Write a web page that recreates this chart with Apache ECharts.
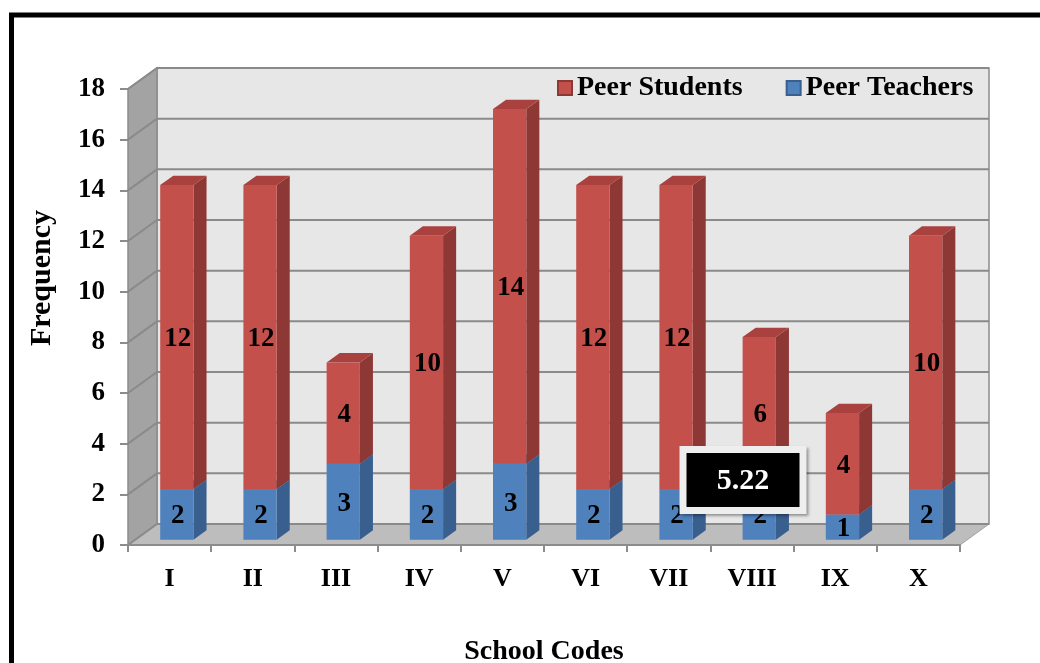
<!DOCTYPE html>
<html>
<head>
<meta charset="utf-8">
<script src="https://cdn.jsdelivr.net/npm/echarts@6/dist/echarts.min.js"></script>
<style>
  html, body { margin: 0; padding: 0; background: #ffffff; }
  #chart { width: 1040px; height: 663px; }
</style>
</head>
<body>
<div id="chart"></div>
<script>
// School codes and the two stacked groups per school
const schoolCodes = ['I', 'II', 'III', 'IV', 'V', 'VI', 'VII', 'VIII', 'IX', 'X'];
const peerTeachers = [2, 2, 3, 2, 3, 2, 2, 2, 1, 2];
const peerStudents = [12, 12, 4, 10, 14, 12, 12, 6, 4, 10];
const yTicks = [0, 2, 4, 6, 8, 10, 12, 14, 16, 18];
const calloutText = '5.22';

const FONT = '"Liberation Serif", "Times New Roman", serif';

// Pseudo-3D geometry (pixels): depth of the box and where the bars sit inside it
const DEPTH_X = 29, DEPTH_Y = -21;
const BAR_FRONT = 0.25, BAR_BACK = 0.7;
const BAR_WIDTH_RATIO = 0.4;

const palette = {
  students: { front: '#c4504c', side: '#8d3835', top: '#a9423f' },
  teachers: { front: '#4f81bd', side: '#395f8e', top: '#416da3' }
};

// [category index, stack base, stack top, segment value]
const teacherData = schoolCodes.map((c, i) => [i, 0, peerTeachers[i], peerTeachers[i]]);
const studentData = schoolCodes.map((c, i) => [i, peerTeachers[i], peerTeachers[i] + peerStudents[i], peerStudents[i]]);

function barRenderer(colors) {
  return function (params, api) {
    const i = api.value(0), lo = api.value(1), hi = api.value(2), v = api.value(3);
    const band = api.size([1, 0])[0];
    const w = band * BAR_WIDTH_RATIO;
    const pLo = api.coord([i, lo]);
    const pHi = api.coord([i, hi]);
    const fx = BAR_FRONT * DEPTH_X, fy = BAR_FRONT * DEPTH_Y;
    const dx = (BAR_BACK - BAR_FRONT) * DEPTH_X, dy = (BAR_BACK - BAR_FRONT) * DEPTH_Y;
    const x0 = pLo[0] - w / 2 + fx, x1 = x0 + w;
    const yb = pLo[1] + fy, yt = pHi[1] + fy;
    return {
      type: 'group',
      children: [
        { type: 'polygon', shape: { points: [[x1, yb], [x1 + dx, yb + dy], [x1 + dx, yt + dy], [x1, yt]] },
          style: { fill: colors.side } },
        { type: 'polygon', shape: { points: [[x0, yt], [x1, yt], [x1 + dx, yt + dy], [x0 + dx, yt + dy]] },
          style: { fill: colors.top } },
        { type: 'rect', shape: { x: x0, y: yt, width: w, height: yb - yt },
          style: { fill: colors.front } },
        { type: 'text', x: (x0 + x1) / 2 + 1, y: (yb + yt) / 2 + 2,
          style: { text: String(v), fill: '#000', font: 'bold 27px ' + FONT, align: 'center', verticalAlign: 'middle' } }
      ]
    };
  };
}

// Back wall, side wall and floor of the plot box
function wallRenderer(params, api) {
  const cs = params.coordSys;
  const L = cs.x, R = cs.x + cs.width, T = cs.y, B = cs.y + cs.height;
  const edge = { stroke: '#8c8c8c', lineWidth: 1.5 };
  return {
    type: 'group',
    children: [
      { type: 'rect', shape: { x: L + DEPTH_X, y: T + DEPTH_Y, width: R - L, height: B - T },
        style: Object.assign({ fill: '#e7e7e7' }, edge) },
      { type: 'polygon', shape: { points: [[L, B], [L, T], [L + DEPTH_X, T + DEPTH_Y], [L + DEPTH_X, B + DEPTH_Y]] },
        style: Object.assign({ fill: '#a3a3a3' }, edge) },
      { type: 'polygon', shape: { points: [[L, B], [R, B], [R + DEPTH_X, B + DEPTH_Y], [L + DEPTH_X, B + DEPTH_Y]] },
        style: { fill: '#bdbdbd', stroke: '#a0a0a0', lineWidth: 1 } }
    ]
  };
}

// Gridlines running along the side wall and across the back wall
function gridRenderer(params, api) {
  const cs = params.coordSys;
  const L = cs.x, R = cs.x + cs.width;
  const y = api.coord([0, api.value(1)])[1];
  return {
    type: 'polyline',
    shape: { points: [[L, y], [L + DEPTH_X, y + DEPTH_Y], [R + DEPTH_X, y + DEPTH_Y]] },
    style: { stroke: '#8a8a8a', lineWidth: 2, fill: null }
  };
}

const chart = echarts.init(document.getElementById('chart'), null, { renderer: 'canvas' });

chart.setOption({
  animation: false,
  backgroundColor: '#ffffff',
  grid: { left: 128, right: 80, top: 89, bottom: 118, containLabel: false, outerBoundsMode: 'none' },
  legend: {
    data: ['Peer Students', 'Peer Teachers'],
    left: 557, top: 74, padding: 0,
    itemWidth: 14, itemHeight: 14, itemGap: 43,
    icon: 'rect',
    textStyle: { fontFamily: FONT, fontWeight: 'bold', fontSize: 28, color: '#000' }
  },
  xAxis: {
    type: 'category',
    data: schoolCodes,
    z: 5,
    name: 'School Codes',
    nameLocation: 'middle',
    nameGap: 93,
    nameTextStyle: { fontFamily: FONT, fontWeight: 'bold', fontSize: 28, color: '#000' },
    axisLine: { show: true, lineStyle: { color: '#8c8c8c', width: 2 } },
    axisTick: { show: true, length: 7, lineStyle: { color: '#8c8c8c', width: 2 } },
    axisLabel: { margin: 21, fontFamily: FONT, fontWeight: 'bold', fontSize: 26, color: '#000' }
  },
  yAxis: {
    type: 'value',
    min: 0, max: 18, interval: 2,
    z: 5,
    splitLine: { show: false },
    axisLine: { show: false },
    axisTick: { show: true, length: 8, lineStyle: { color: '#8c8c8c', width: 2 } },
    axisLabel: { margin: 23, fontFamily: FONT, fontWeight: 'bold', fontSize: 27, color: '#000' }
  },
  series: [
    { type: 'custom', name: 'walls', renderItem: wallRenderer, data: [[0, 0]], z: 1, silent: true },
    { type: 'custom', name: 'gridlines', renderItem: gridRenderer, data: yTicks.map(v => [0, v]), z: 2, silent: true },
    { type: 'custom', name: 'Peer Teachers', renderItem: barRenderer(palette.teachers), data: teacherData, z: 3,
      itemStyle: { color: palette.teachers.front, borderColor: palette.teachers.side, borderWidth: 1 } },
    { type: 'custom', name: 'Peer Students', renderItem: barRenderer(palette.students), data: studentData, z: 4,
      itemStyle: { color: palette.students.front, borderColor: palette.students.side, borderWidth: 1 } }
  ],
  graphic: [
    // outer frame
    { type: 'rect', z: 100, shape: { x: 11.5, y: 15, width: 1200, height: 800 },
      style: { fill: null, stroke: '#000', lineWidth: 5 } },
    // value-axis title
    { type: 'text', z: 100, x: 42, y: 278, rotation: Math.PI / 2,
      style: { text: 'Frequency', fill: '#000', font: 'bold 30px ' + FONT, align: 'center', verticalAlign: 'middle' } },
    // value callout
    { type: 'rect', z: 100, shape: { x: 683, y: 449.5, width: 120, height: 61 },
      style: { fill: '#000', stroke: '#eeeeee', lineWidth: 7, shadowBlur: 3, shadowColor: 'rgba(0,0,0,0.35)', shadowOffsetX: 2, shadowOffsetY: 2 } },
    { type: 'text', z: 101, x: 743, y: 481,
      style: { text: calloutText, fill: '#fff', font: 'bold 30px ' + FONT, align: 'center', verticalAlign: 'middle' } }
  ]
});
</script>
</body>
</html>
